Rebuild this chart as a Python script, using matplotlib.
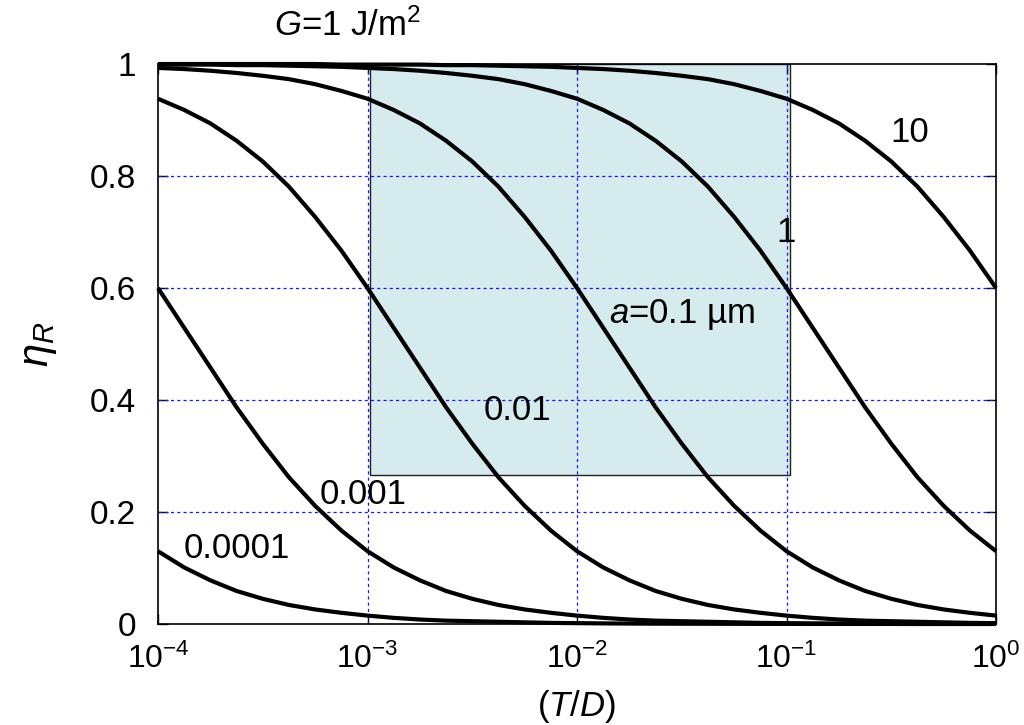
import numpy as np
import matplotlib
matplotlib.use("Agg")
import matplotlib.pyplot as plt
from matplotlib.patches import Rectangle

plt.rcParams['font.family'] = ['Liberation Sans', 'DejaVu Sans']
plt.rcParams['mathtext.fontset'] = 'custom'
plt.rcParams['mathtext.rm'] = 'Liberation Sans'
plt.rcParams['mathtext.it'] = 'Liberation Sans:italic'
plt.rcParams['mathtext.bf'] = 'Liberation Sans:bold'

# x positions (T/D), eighth-decade steps from 1e-4 to 1e0
x_exponents = [-4 + k / 8 for k in range(33)]

eta_10 = [1.000, 1.000, 1.000, 1.000, 1.000, 1.000, 1.000, 0.999,
          0.999, 0.999, 0.999, 0.998, 0.998, 0.997, 0.996, 0.995,
          0.993, 0.991, 0.988, 0.984, 0.979, 0.973, 0.964, 0.952,
          0.938, 0.918, 0.894, 0.863, 0.826, 0.781, 0.727, 0.667,
          0.600]
eta_1 = [0.999, 0.999, 0.999, 0.998, 0.998, 0.997, 0.996, 0.995,
         0.993, 0.991, 0.988, 0.984, 0.979, 0.973, 0.964, 0.952,
         0.938, 0.918, 0.894, 0.863, 0.826, 0.781, 0.727, 0.667,
         0.600, 0.529, 0.458, 0.387, 0.322, 0.262, 0.211, 0.167,
         0.130]
eta_01 = [0.993, 0.991, 0.988, 0.984, 0.979, 0.973, 0.964, 0.952,
          0.938, 0.918, 0.894, 0.863, 0.826, 0.781, 0.727, 0.667,
          0.600, 0.529, 0.458, 0.387, 0.322, 0.262, 0.211, 0.167,
          0.130, 0.101, 0.078, 0.059, 0.045, 0.034, 0.026, 0.020,
          0.015]
eta_001 = [0.938, 0.918, 0.894, 0.863, 0.826, 0.781, 0.727, 0.667,
           0.600, 0.529, 0.458, 0.387, 0.322, 0.262, 0.211, 0.167,
           0.130, 0.101, 0.078, 0.059, 0.045, 0.034, 0.026, 0.020,
           0.015, 0.011, 0.008, 0.006, 0.005, 0.004, 0.003, 0.002,
           0.0015]
eta_0001 = [0.600, 0.529, 0.458, 0.387, 0.322, 0.262, 0.211, 0.167,
            0.130, 0.101, 0.078, 0.059, 0.045, 0.034, 0.026, 0.020,
            0.015, 0.011, 0.008, 0.006, 0.005, 0.004, 0.003, 0.002,
            0.0015, 0.0011, 0.0008, 0.0006, 0.0005, 0.0004, 0.0003, 0.0002,
            0.0002]
eta_00001 = [0.130, 0.101, 0.078, 0.059, 0.045, 0.034, 0.026, 0.020,
             0.015, 0.011, 0.008, 0.006, 0.005, 0.004, 0.003, 0.002,
             0.0015, 0.0011, 0.0008, 0.0006, 0.0005, 0.0004, 0.0003, 0.0002,
             0.0002, 0.0001, 0.0001, 0.0001, 0.0001, 0.0, 0.0, 0.0,
             0.0]

series = [eta_10, eta_1, eta_01, eta_001, eta_0001, eta_00001]

x_ticks = [1e-4, 1e-3, 1e-2, 1e-1, 1e0]
x_ticklabels = [r'$10^{\mathregular{-4}}$', r'$10^{\mathregular{-3}}$', r'$10^{\mathregular{-2}}$',
                r'$10^{\mathregular{-1}}$', r'$10^{0}$']
y_ticks = [0, 0.2, 0.4, 0.6, 0.8, 1]
y_ticklabels = ['0', '0.2', '0.4', '0.6', '0.8', '1']

# shaded region
box_x = [1.03e-3, 1.04e-1]
box_y = [0.266, 1.0]

x = [10 ** e for e in x_exponents]

fig = plt.figure(figsize=(10.24, 7.25), dpi=100)
ax = fig.add_axes([0.1543, 0.1393, 0.8184, 0.7724])
ax.set_xscale('log')
ax.set_xlim(1e-4, 1)
ax.set_ylim(0, 1)

ax.add_patch(Rectangle((box_x[0], box_y[0]), box_x[1] - box_x[0], box_y[1] - box_y[0],
                       facecolor='#d6ebee', edgecolor='#222222', linewidth=1.0, zorder=1))

for xv in [1e-3, 1e-2, 1e-1]:
    ax.axvline(xv, color='#1a1aee', linestyle=(0, (2.5, 2.5)), linewidth=0.9, zorder=2)
for yv in [0.2, 0.4, 0.6, 0.8]:
    ax.axhline(yv, color='#1a1aee', linestyle=(0, (2.5, 2.5)), linewidth=0.9, zorder=2)

for s in series:
    ax.plot(x, s, color='black', linewidth=3.0, zorder=3, clip_on=False,
            solid_capstyle='butt', solid_joinstyle='round')

ax.set_xticks(x_ticks)
ax.set_xticklabels(x_ticklabels)
ax.xaxis.set_minor_locator(matplotlib.ticker.NullLocator())
ax.set_yticks(y_ticks)
ax.set_yticklabels(y_ticklabels)
ax.tick_params(axis='both', direction='in', length=7, width=1.0, top=True, right=True)
ax.tick_params(axis='x', labelsize=23, pad=14)
ax.tick_params(axis='y', labelsize=24, pad=16)
for sp in ax.spines.values():
    sp.set_linewidth(1.2)
    sp.set_zorder(4)

ax.set_xlabel(r'($\it{T/D}$)', fontsize=25)
ax.xaxis.set_label_coords(0.5, -0.147)
ax.xaxis.label.set_verticalalignment('center')
ax.set_ylabel(r'$\eta_R$', fontsize=30, labelpad=22)

tk = dict(fontsize=25, color='black', transform=fig.transFigure, zorder=5)
fig.text(347/1024, 1 - 26/725, r'$\mathit{G}$=1 J/m$^{\mathregular{2}}$', ha='center', va='center', **tk)
fig.text(910/1024, 1 - 133/725, '10', ha='center', va='center', **tk)
fig.text(786/1024, 1 - 233/725, '1', ha='center', va='center', **tk)
fig.text(682/1024, 1 - 315/725, r'$\mathit{a}$=0.1 µm', ha='center', va='center', **tk)
fig.text(517/1024, 1 - 410/725, '0.01', ha='center', va='center', **tk)
fig.text(363/1024, 1 - 495/725, '0.001', ha='center', va='center', **tk)
fig.text(237/1024, 1 - 548/725, '0.0001', ha='center', va='center', **tk)

fig.savefig('out.png', dpi=100)
